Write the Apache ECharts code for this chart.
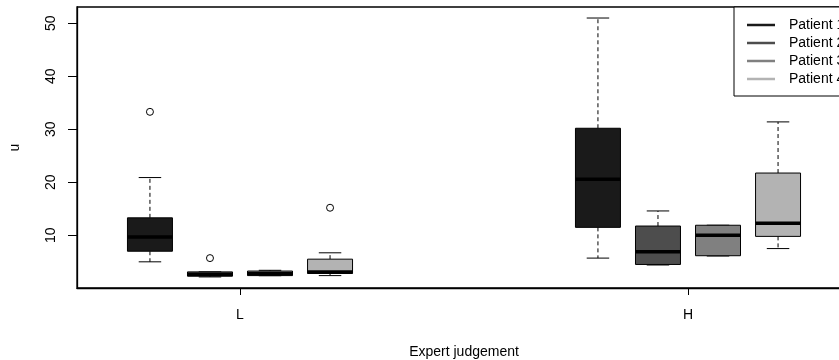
<!DOCTYPE html>
<html>
<head>
<meta charset="utf-8">
<script src="https://cdn.jsdelivr.net/npm/echarts@6/dist/echarts.min.js"></script>
<style>
  html, body { margin: 0; padding: 0; background: #fff; }
  #chart { width: 839px; height: 360px; }
</style>
</head>
<body>
<div id="chart"></div>
<script>
// Groups on the x axis and the four patients drawn inside each group
const groups = ['L', 'H'];
const patients = ['Patient 1', 'Patient 2', 'Patient 3', 'Patient 4'];

// Five-number summaries [lower whisker, Q1, median, Q3, upper whisker], one per group (L, H)
const patient1Stats = [[5.0, 7.0, 9.7, 13.3, 20.9], [5.7, 11.5, 20.6, 30.2, 51.0]];
const patient2Stats = [[2.15, 2.3, 2.6, 3.1, 3.1], [4.4, 4.5, 6.9, 11.75, 14.6]];
const patient3Stats = [[2.38, 2.4, 2.75, 3.26, 3.4], [6.1, 6.15, 10.0, 11.9, 11.9]];
const patient4Stats = [[2.4, 2.8, 3.1, 5.5, 6.7], [7.5, 9.8, 12.3, 21.75, 31.4]];

// Outlying points per group (L, H)
const patient1Outliers = [[33.3], []];
const patient2Outliers = [[5.7], []];
const patient3Outliers = [[], []];
const patient4Outliers = [[15.2], []];

// Y axis tick labels
const yTicks = [10, 20, 30, 40, 50];

const allStats = [patient1Stats, patient2Stats, patient3Stats, patient4Stats];
const allOutliers = [patient1Outliers, patient2Outliers, patient3Outliers, patient4Outliers];
const fills = ['#1a1a1a', '#4d4d4d', '#808080', '#b3b3b3'];

// Group g sits at x = g + 1; the patients are spread around it
const slotStep = 0.134;
const boxHalf = 0.0502;
const capHalf = boxHalf / 2;
const slotX = (g, p) => g + 1 + (p - 1.5) * slotStep;

const FONT = '"Liberation Sans", Arial, Helvetica, sans-serif';

function renderBox(params, api) {
  const x = api.value(0);
  const lo = api.value(1), q1 = api.value(2), med = api.value(3), q3 = api.value(4), hi = api.value(5);
  const c = (xx, v) => api.coord([xx, v]);
  const line = (a, b, style) => ({
    type: 'line',
    shape: { x1: a[0], y1: a[1], x2: b[0], y2: b[1] },
    style: Object.assign({ stroke: '#000', lineWidth: 1 }, style)
  });
  const tl = c(x - boxHalf, q3), br = c(x + boxHalf, q1);
  return {
    type: 'group',
    children: [
      line(c(x, q3), c(x, hi), { lineDash: [4, 3] }),
      line(c(x, q1), c(x, lo), { lineDash: [4, 3] }),
      line(c(x - capHalf, hi), c(x + capHalf, hi), {}),
      line(c(x - capHalf, lo), c(x + capHalf, lo), {}),
      {
        type: 'rect',
        shape: { x: tl[0], y: tl[1], width: br[0] - tl[0], height: br[1] - tl[1] },
        style: { fill: api.visual('color'), stroke: '#000', lineWidth: 1 }
      },
      line(c(x - boxHalf, med), c(x + boxHalf, med), { lineWidth: 3.5 })
    ]
  };
}

const series = [];
patients.forEach((name, p) => {
  series.push({
    name: name,
    type: 'custom',
    renderItem: renderBox,
    itemStyle: { color: fills[p] },
    encode: { x: 0, y: [1, 2, 3, 4, 5] },
    data: allStats[p].map((s, g) => [slotX(g, p)].concat(s)),
    silent: true,
    z: 2
  });
});

const outlierPoints = [];
allOutliers.forEach((perGroup, p) => {
  perGroup.forEach((vals, g) => {
    vals.forEach(v => outlierPoints.push([slotX(g, p), v]));
  });
});
series.push({
  name: 'outliers',
  type: 'scatter',
  data: outlierPoints,
  symbol: 'circle',
  symbolSize: 7,
  itemStyle: { color: 'rgba(0,0,0,0)', borderColor: '#000', borderWidth: 1, opacity: 1 },
  silent: true,
  z: 3
});

const chart = echarts.init(document.getElementById('chart'), null, { renderer: 'canvas' });
chart.setOption({
  animation: false,
  backgroundColor: '#fff',
  textStyle: { fontFamily: FONT, color: '#000' },
  grid: {
    left: 77, top: 7, width: 774, height: 281,
    outerBoundsMode: 'none',
    containLabel: false,
    show: true, borderColor: '#000', borderWidth: 1.3, backgroundColor: 'transparent'
  },
  legend: {
    data: patients,
    orient: 'vertical',
    left: 734, top: 7,
    padding: [11, 30, 10, 13],
    itemGap: 4,
    itemWidth: 28,
    itemHeight: 2.5,
    icon: 'rect',
    backgroundColor: '#fff',
    borderColor: '#000',
    borderWidth: 1,
    borderRadius: 0,
    selectedMode: false,
    textStyle: { fontFamily: FONT, fontSize: 14, lineHeight: 14, color: '#000', padding: [0, 0, 0, 9] },
    z: 10
  },
  xAxis: {
    type: 'value',
    min: 0.63616, max: 2.36384,
    name: 'Expert judgement',
    nameLocation: 'middle',
    nameGap: 57,
    nameTextStyle: { fontFamily: FONT, fontSize: 14, color: '#000' },
    splitLine: { show: false },
    axisLine: { show: true, onZero: false, lineStyle: { color: '#000', width: 1.3 } },
    axisTick: { show: true, length: 7, customValues: [1, 2], lineStyle: { color: '#000' } },
    axisLabel: {
      customValues: [1, 2],
      formatter: v => groups[Math.round(v) - 1],
      fontFamily: FONT, fontSize: 14, color: '#000', margin: 20
    }
  },
  yAxis: {
    type: 'value',
    min: 0.06, max: 53.08,
    name: 'u',
    nameLocation: 'middle',
    nameGap: 55,
    nameRotate: 90,
    nameTextStyle: { fontFamily: FONT, fontSize: 14, color: '#000' },
    splitLine: { show: false },
    axisLine: { show: true, onZero: false, lineStyle: { color: '#000', width: 1.3 } },
    axisTick: { show: true, length: 9, customValues: yTicks, lineStyle: { color: '#000' } },
    axisLabel: {
      customValues: yTicks,
      rotate: 90,
      fontFamily: FONT, fontSize: 14, color: '#000', margin: 19
    }
  },
  series: series
});
</script>
</body>
</html>
